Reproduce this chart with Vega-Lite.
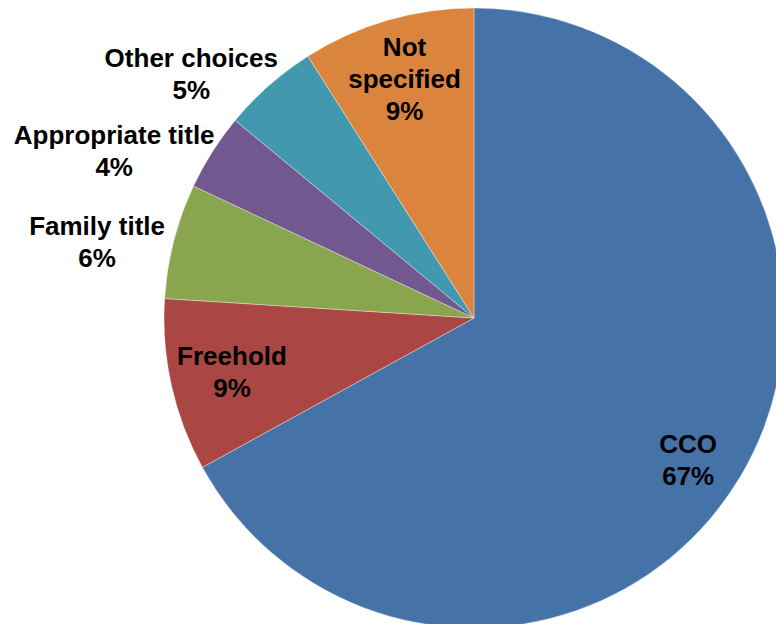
{
  "$schema": "https://vega.github.io/schema/vega-lite/v6.json",
  "width": 948,
  "height": 636,
  "autosize": {"type": "none"},
  "padding": {"left": 0, "top": 0, "right": -172, "bottom": -12},
  "background": "white",
  "view": {"stroke": null},
  "usermeta": {"embedOptions": {"actions": false}},
  "data": {
    "values": [
      {"category": "CCO", "label": "CCO", "value": 67},
      {"category": "Freehold", "label": "Freehold", "value": 9},
      {"category": "Family title", "label": "Family title", "value": 6},
      {"category": "Appropriate title", "label": "Appropriate title", "value": 4},
      {"category": "Other choices", "label": "Other choices", "value": 5},
      {"category": "Not specified", "label": "Not\nspecified", "value": 9}
    ]
  },
  "transform": [
    {"window": [{"op": "row_number", "as": "idx"}]},
    {"calculate": "datum.label + '\\n' + datum.value + '%'", "as": "txt"}
  ],
  "encoding": {
    "theta": {"field": "value", "type": "quantitative", "stack": true},
    "order": {"field": "idx", "type": "quantitative"}
  },
  "layer": [
    {
      "mark": {"type": "arc", "outerRadius": 310, "stroke": "#ffffff", "strokeWidth": 0.6, "strokeOpacity": 0.6},
      "encoding": {
        "color": {
          "field": "category",
          "type": "nominal",
          "scale": {
            "domain": ["CCO", "Freehold", "Family title", "Appropriate title", "Other choices", "Not specified"],
            "range": ["#4572A7", "#AA4643", "#89A54E", "#71588F", "#4198AF", "#DB843D"]
          },
          "legend": null
        }
      }
    },
    {
      "mark": {"type": "text", "radius": 248, "dy": -15, "font": "Liberation Sans", "fontWeight": "bold", "fontSize": 26, "lineHeight": 32, "lineBreak": "\n", "align": "center", "baseline": "middle", "color": "#000000"},
      "encoding": {"text": {"condition": {"test": "datum.category === 'Freehold'", "field": "txt"}, "value": ""}}
    },
    {
      "mark": {"type": "text", "radius": 249, "dy": -31, "font": "Liberation Sans", "fontWeight": "bold", "fontSize": 26, "lineHeight": 32, "lineBreak": "\n", "align": "center", "baseline": "middle", "color": "#000000"},
      "encoding": {"text": {"condition": {"test": "datum.category === 'Not specified'", "field": "txt"}, "value": ""}}
    },
    {
      "mark": {"type": "text", "radius": 257, "dx": -7, "dy": -4, "font": "Liberation Sans", "fontWeight": "bold", "fontSize": 26, "lineHeight": 32, "lineBreak": "\n", "align": "center", "baseline": "middle", "color": "#000000"},
      "encoding": {"text": {"condition": {"test": "datum.category === 'CCO'", "field": "txt"}, "value": ""}}
    },
    {
      "mark": {"type": "text", "radius": 384, "dx": -5, "dy": 4, "font": "Liberation Sans", "fontWeight": "bold", "fontSize": 26, "lineHeight": 32, "lineBreak": "\n", "align": "center", "baseline": "middle", "color": "#000000"},
      "encoding": {"text": {"condition": {"test": "datum.category === 'Family title'", "field": "txt"}, "value": ""}}
    },
    {
      "mark": {"type": "text", "radius": 393, "dx": -28, "dy": 29, "font": "Liberation Sans", "fontWeight": "bold", "fontSize": 26, "lineHeight": 32, "lineBreak": "\n", "align": "center", "baseline": "middle", "color": "#000000"},
      "encoding": {"text": {"condition": {"test": "datum.category === 'Appropriate title'", "field": "txt"}, "value": ""}}
    },
    {
      "mark": {"type": "text", "radius": 370, "dx": -38, "dy": 19, "font": "Liberation Sans", "fontWeight": "bold", "fontSize": 26, "lineHeight": 32, "lineBreak": "\n", "align": "center", "baseline": "middle", "color": "#000000"},
      "encoding": {"text": {"condition": {"test": "datum.category === 'Other choices'", "field": "txt"}, "value": ""}}
    }
  ]
}
